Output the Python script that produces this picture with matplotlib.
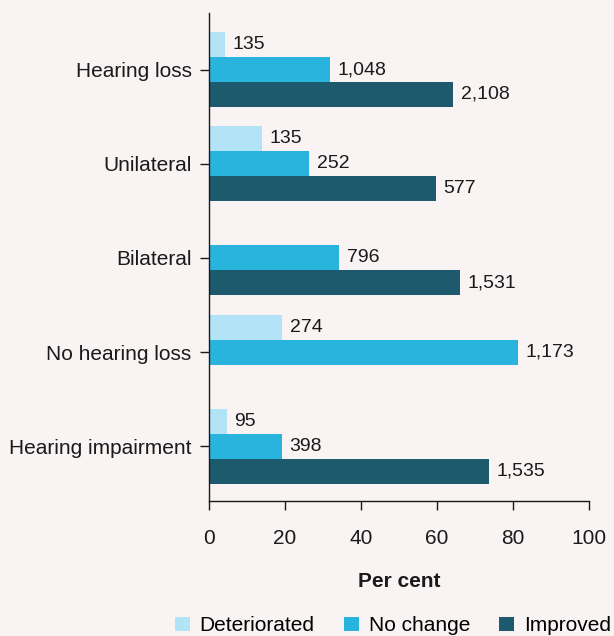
# -*- coding: utf-8 -*-
# hearing outcomes chart
import numpy as np
import matplotlib.pyplot as plt

plt.rcParams['font.family'] = ['Liberation Sans', 'DejaVu Sans']

categories = ['Hearing loss', 'Unilateral', 'Bilateral', 'No hearing loss', 'Hearing impairment']
series = ['Deteriorated', 'No change', 'Improved']
# per cent values (bar lengths), NaN = no bar
deteriorated = [4.2, 13.9, np.nan, 19.2, 4.7]
no_change = [31.8, 26.3, 34.2, 81.4, 19.2]
improved = [64.3, 59.7, 66.0, np.nan, 73.7]
# counts shown as labels
deteriorated_n = ['135', '135', '', '274', '95']
no_change_n = ['1,048', '252', '796', '1,173', '398']
improved_n = ['2,108', '577', '1,531', '', '1,535']

colors = ['#b3e3f6', '#29b4de', '#1d5a6e']
bg = '#f9f3f3'

fig = plt.figure(figsize=(6.14, 6.36), dpi=100, facecolor=bg)
ax = fig.add_axes([209/614, 1-501/636, 380/614, 488/636])
ax.set_facecolor(bg)

y = np.arange(len(categories))
h = 0.265
vals = [deteriorated, no_change, improved]
labs = [deteriorated_n, no_change_n, improved_n]
for i in range(3):
    pos = y + (i - 1) * h
    v = np.array(vals[i], dtype=float)
    ax.barh(pos, np.nan_to_num(v), height=h, color=colors[i], label=series[i])
    for p, val, t in zip(pos, v, labs[i]):
        if t and not np.isnan(val):
            ax.annotate(t, (val, p), xytext=(5.5, 0), textcoords='offset points',
                        va='center', ha='left', fontsize=14, color='#1a1a1a')

ax.set_xlim(0, 100)
ax.set_ylim(4.58, -0.6)
ax.set_xticks([0, 20, 40, 60, 80, 100])
ax.set_yticks(y)
ax.set_yticklabels(categories)
ax.tick_params(axis='x', length=6.5, width=1, labelsize=15, pad=14, colors='#1a1a1a')
ax.tick_params(axis='y', length=6.5, width=1, labelsize=15, pad=6, colors='#1a1a1a')
for s in ['top', 'right']:
    ax.spines[s].set_visible(False)
for s in ['left', 'bottom']:
    ax.spines[s].set_linewidth(1.0)
    ax.spines[s].set_color('#1a1a1a')
ax.set_xlabel('Per cent', fontsize=15, fontweight='bold', labelpad=17, color='#1a1a1a')

leg = fig.legend(loc='center', bbox_to_anchor=(0.64, 0.016), ncol=3, frameon=False,
                 fontsize=15, handlelength=0.72, handleheight=0.72,
                 handletextpad=0.48, columnspacing=1.4, borderaxespad=0)

plt.savefig('out.png', dpi=100, facecolor=bg)
